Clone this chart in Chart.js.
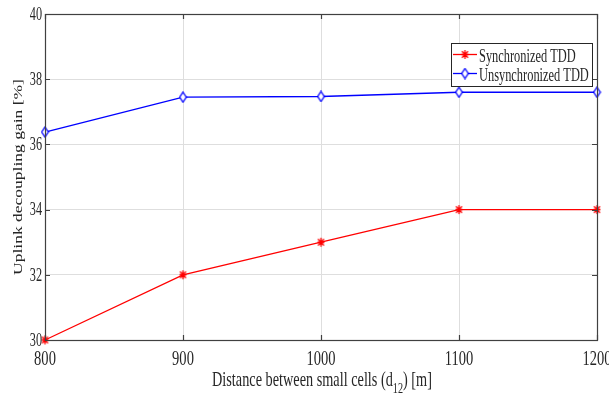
<!DOCTYPE html>
<html><head><meta charset="utf-8">
<script src="https://cdn.jsdelivr.net/npm/chart.js@4.4.1/dist/chart.umd.min.js"></script>
<style>html,body{margin:0;padding:0;background:#fff;} canvas{display:block;}</style>
</head><body>
<canvas id="c" width="609" height="395"></canvas>
<script>
const distances = [800, 900, 1000, 1100, 1200];
const syncTDD = [30, 32, 33, 34, 34];
const unsyncTDD = [36.38, 37.45, 37.47, 37.6, 37.6];
const xTickValues = [800, 900, 1000, 1100, 1200];
const yTickValues = [30, 32, 34, 36, 38, 40];
const seriesNames = ['Synchronized TDD', 'Unsynchronized TDD'];
const xTitleParts = ['Distance between small cells (d', '12', ') [m]'];
const yTitle = 'Uplink decoupling gain [%]';

const FONT = '"Liberation Serif", "Times New Roman", serif';
const TXT = '#262626';

function makeDiamond() {
  const c = document.createElement('canvas'); c.width = 9; c.height = 12;
  const g = c.getContext('2d');
  g.beginPath(); g.moveTo(4.5, 1); g.lineTo(7.8, 6); g.lineTo(4.5, 11); g.lineTo(1.2, 6); g.closePath();
  g.fillStyle = '#fff'; g.fill(); g.strokeStyle = '#0000ff'; g.lineWidth = 1.3; g.stroke();
  return c;
}
function makeStar() {
  const c = document.createElement('canvas'); c.width = 9; c.height = 11;
  const g = c.getContext('2d');
  g.strokeStyle = '#ff0000'; g.lineWidth = 1.3;
  g.beginPath();
  g.moveTo(4.5, 1); g.lineTo(4.5, 10);
  g.moveTo(1, 5.5); g.lineTo(8, 5.5);
  g.moveTo(1.5, 2.3); g.lineTo(7.5, 8.7);
  g.moveTo(7.5, 2.3); g.lineTo(1.5, 8.7);
  g.stroke();
  return c;
}
const diamondImg = makeDiamond();
const starImg = makeStar();

function sText(ctx, text, x, y, size, sx, align, baseline) {
  ctx.save();
  ctx.translate(x, y);
  ctx.scale(sx, 1);
  ctx.font = size + 'px ' + FONT;
  ctx.fillStyle = TXT;
  ctx.textAlign = align || 'left';
  ctx.textBaseline = baseline || 'alphabetic';
  ctx.fillText(text, 0, 0);
  const w = ctx.measureText(text).width * sx;
  ctx.restore();
  return w;
}
function sWidth(ctx, text, size, sx) {
  ctx.save(); ctx.font = size + 'px ' + FONT;
  const w = ctx.measureText(text).width * sx; ctx.restore(); return w;
}

const decor = {
  id: 'decor',
  afterDatasetsDraw(chart) {
    const ctx = chart.ctx;
    const a = chart.chartArea;
    const xs = chart.scales.x, ys = chart.scales.y;
    // axes box
    ctx.save();
    ctx.strokeStyle = '#404040';
    ctx.lineWidth = 1.2;
    ctx.strokeRect(Math.round(a.left) + 0.5, Math.round(a.top) + 0.5, Math.round(a.right - a.left), Math.round(a.bottom - a.top));
    // inward ticks
    ctx.beginPath();
    const TL = 5;
    xs.ticks.forEach(t => {
      const px = Math.round(xs.getPixelForValue(t.value)) + 0.5;
      ctx.moveTo(px, a.bottom); ctx.lineTo(px, a.bottom - TL);
      ctx.moveTo(px, a.top); ctx.lineTo(px, a.top + TL);
    });
    ys.ticks.forEach(t => {
      const py = Math.round(ys.getPixelForValue(t.value)) + 0.5;
      ctx.moveTo(a.left, py); ctx.lineTo(a.left + TL, py);
      ctx.moveTo(a.right, py); ctx.lineTo(a.right - TL, py);
    });
    ctx.stroke();
    ctx.restore();

    // tick labels
    xs.ticks.forEach(t => {
      sText(ctx, String(t.value), xs.getPixelForValue(t.value), 365, 22, 0.66, 'center');
    });
    ys.ticks.forEach(t => {
      sText(ctx, String(t.value), 42, ys.getPixelForValue(t.value) + 1, 18, 0.68, 'right', 'middle');
    });

    // x title with subscript
    const w0 = sWidth(ctx, xTitleParts[0], 21, 0.68);
    const w1 = sWidth(ctx, xTitleParts[1], 15, 0.68);
    const w2 = sWidth(ctx, xTitleParts[2], 21, 0.68);
    const cx = (a.left + a.right) / 2 + 1;
    let x0 = cx - (w0 + w1 + w2) / 2;
    sText(ctx, xTitleParts[0], x0, 386, 21, 0.68, 'left');
    sText(ctx, xTitleParts[1], x0 + w0, 393, 15, 0.68, 'left');
    sText(ctx, xTitleParts[2], x0 + w0 + w1, 386, 21, 0.68, 'left');

    // y title (rotated)
    ctx.save();
    ctx.translate(22, (a.top + a.bottom) / 2);
    ctx.rotate(-Math.PI / 2);
    ctx.scale(1, 0.75);
    ctx.font = '17.5px ' + FONT;
    ctx.fillStyle = TXT;
    ctx.textAlign = 'center';
    ctx.textBaseline = 'alphabetic';
    ctx.fillText(yTitle, 0, 0);
    ctx.restore();

    // legend
    const L = 451, T = 43, R = 592, B = 86;
    ctx.save();
    ctx.fillStyle = '#fff';
    ctx.fillRect(L, T, R - L, B - T);
    ctx.strokeStyle = '#262626';
    ctx.lineWidth = 1;
    ctx.strokeRect(L + 0.5, T + 0.5, R - L, B - T);
    ctx.restore();
    const rows = [54, 73];
    chart.data.datasets.forEach((ds, i) => {
      const y = rows[i];
      ctx.save();
      ctx.strokeStyle = ds.borderColor;
      ctx.lineWidth = ds.borderWidth;
      ctx.beginPath(); ctx.moveTo(453, y + 0.5); ctx.lineTo(477, y + 0.5); ctx.stroke();
      const img = ds.pointStyle;
      ctx.drawImage(img, 465 - img.width / 2, y + 0.5 - img.height / 2);
      ctx.restore();
      sText(ctx, ds.label, 479, y + 7.5, 18.5, 0.67, 'left');
    });
  }
};

new Chart(document.getElementById('c'), {
  type: 'line',
  data: {
    datasets: [
      {
        label: seriesNames[0],
        data: distances.map((d, i) => ({ x: d, y: syncTDD[i] })),
        borderColor: '#ff0000', backgroundColor: '#ff0000',
        borderWidth: 1.3, pointStyle: starImg, pointRadius: 4, tension: 0,
        clip: false
      },
      {
        label: seriesNames[1],
        data: distances.map((d, i) => ({ x: d, y: unsyncTDD[i] })),
        borderColor: '#0000ff', backgroundColor: '#fff',
        borderWidth: 1.3, pointStyle: diamondImg, pointRadius: 4, tension: 0,
        clip: false
      }
    ]
  },
  options: {
    responsive: false,
    animation: false,
    devicePixelRatio: 1,
    layout: { padding: { left: 45, top: 14, right: 12, bottom: 55 } },
    plugins: { legend: { display: false }, tooltip: { enabled: false } },
    scales: {
      x: {
        type: 'linear', min: 800, max: 1200,
        afterBuildTicks: s => { s.ticks = xTickValues.map(v => ({ value: v })); },
        afterFit: s => { s.height = 0; s.paddingLeft = 0; s.paddingRight = 0; s.paddingTop = 0; s.paddingBottom = 0; },
        ticks: { display: false },
        grid: { color: '#dedede', lineWidth: 1, drawTicks: false },
        border: { display: false }
      },
      y: {
        type: 'linear', min: 30, max: 40,
        afterBuildTicks: s => { s.ticks = yTickValues.map(v => ({ value: v })); },
        afterFit: s => { s.width = 0; s.paddingLeft = 0; s.paddingRight = 0; s.paddingTop = 0; s.paddingBottom = 0; },
        ticks: { display: false },
        grid: { color: '#dedede', lineWidth: 1, drawTicks: false },
        border: { display: false }
      }
    }
  },
  plugins: [decor]
});
</script>
</body></html>
